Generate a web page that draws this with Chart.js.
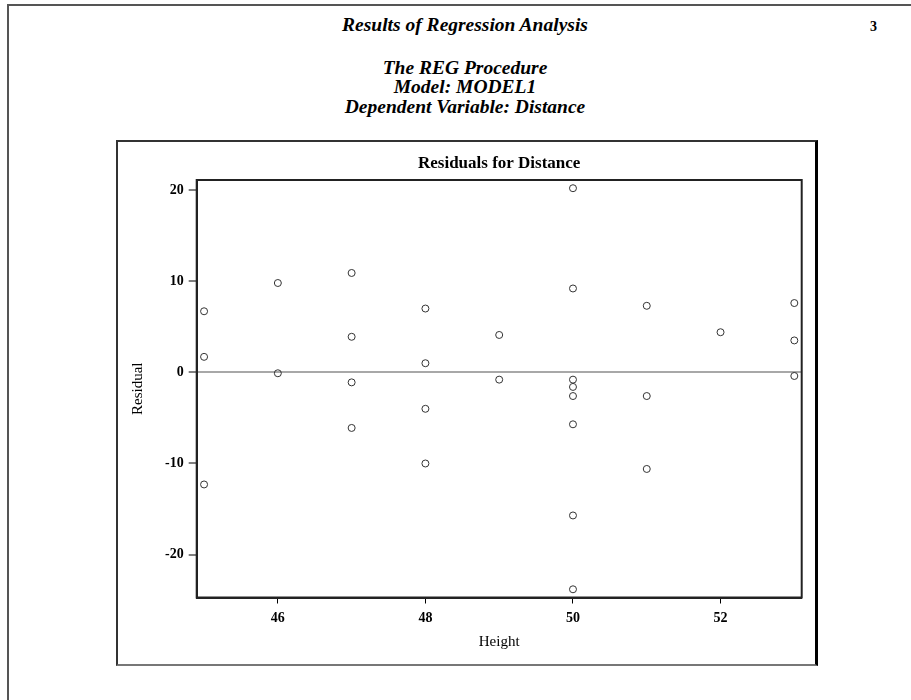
<!DOCTYPE html>
<html>
<head>
<meta charset="utf-8">
<script src="https://cdn.jsdelivr.net/npm/chart.js@4"></script>
<style>
  html, body { margin: 0; padding: 0; background: #fff; width: 911px; height: 700px; overflow: hidden; }
  .page { position: absolute; left: 7px; top: 4px; width: 1000px; height: 800px; border-left: 2px solid #555; border-top: 2px solid #555; }
  .box { position: absolute; left: 116px; top: 140px; width: 697px; height: 522px; border-left: 2px solid #333; border-top: 2px solid #333; border-right: 3px solid #000; border-bottom: 2px solid #777; }
  .t { position: absolute; left: 0; width: 930px; text-align: center; font-family: "Liberation Serif", serif; font-weight: bold; font-style: italic; font-size: 19.5px; line-height: 20px; color: #000; white-space: nowrap; }
  .pg { position: absolute; left: 870px; top: 20px; font-family: "Liberation Serif", serif; font-weight: bold; font-size: 14px; line-height: 14px; }
  #wrap { position: absolute; left: 0; top: 0; width: 911px; height: 700px; }
</style>
</head>
<body>
<div class="page"></div>
<div class="box"></div>
<div class="t" style="top:15px">Results of Regression Analysis</div>
<div class="pg">3</div>
<div class="t" style="top:57.7px">The REG Procedure</div>
<div class="t" style="top:77.4px">Model: MODEL1</div>
<div class="t" style="top:96.7px">Dependent Variable: Distance</div>
<div id="wrap"><canvas id="c" width="911" height="700"></canvas></div>
<script>
// Data
const heights = [45,45,45, 46,46, 47,47,47,47, 48,48,48,48, 49,49, 50,50,50,50,50,50,50,50, 51,51,51, 52, 53,53,53];
const residuals = [6.7,1.7,-12.3, 9.8,-0.1, 10.9,3.9,-1.1,-6.1, 7.0,1.0,-4.0,-10.0, 4.1,-0.8, 20.2,9.2,-0.8,-1.6,-2.6,-5.7,-15.7,-23.8, 7.3,-2.6,-10.6, 4.4, 7.6,3.5,-0.4];
const xTicks = [46, 48, 50, 52];
const yTicks = [-20, -10, 0, 10, 20];
const chartTitle = "Residuals for Distance";
const xTitle = "Height";
const yTitle = "Residual";

const points = heights.map((h, i) => ({ x: h, y: residuals[i] }));
const serif = "'Liberation Serif', 'Times New Roman', serif";

const framePlugin = {
  id: 'frame',
  afterDraw(chart) {
    const { ctx, chartArea: a } = chart;
    ctx.save();
    ctx.strokeStyle = '#222';
    ctx.lineWidth = 2;
    ctx.strokeRect(a.left, a.top, a.right - a.left, a.bottom - a.top);
    ctx.restore();
  }
};

new Chart(document.getElementById('c'), {
  type: 'scatter',
  data: {
    datasets: [{
      data: points,
      pointStyle: 'circle',
      pointRadius: 3.5,
      pointHoverRadius: 3.5,
      borderWidth: 1,
      borderColor: '#333',
      backgroundColor: 'rgba(255,255,255,0)'
    }]
  },
  options: {
    responsive: false,
    animation: false,
    devicePixelRatio: 1,
    layout: { padding: { top: 153.8, left: 120, right: 109.3, bottom: 46.5 } },
    plugins: {
      legend: { display: false },
      tooltip: { enabled: false },
      title: {
        display: true,
        text: chartTitle,
        fullSize: false,
        color: '#000',
        font: { family: serif, size: 17, weight: 'bold', lineHeight: 1.2 },
        padding: { top: 0, bottom: 5.8 }
      }
    },
    scales: {
      x: {
        type: 'linear',
        min: 44.9,
        max: 53.1,
        afterFit(s) { s.height = 56; },
        afterBuildTicks(s) { s.ticks = xTicks.map(v => ({ value: v })); },
        ticks: { color: '#000', padding: 6.6, font: { family: serif, size: 14, weight: 'bold' } },
        grid: { drawOnChartArea: false, drawTicks: true, tickLength: 6, tickColor: '#000', tickWidth: 1, color: '#000' },
        border: { display: true, color: '#222', width: 2 },
        title: { display: true, text: xTitle, color: '#000', font: { family: serif, size: 15 }, padding: { top: 0, bottom: 2 } }
      },
      y: {
        type: 'linear',
        min: -24.7,
        max: 21.1,
        afterFit(s) { s.width = 76.7; },
        afterBuildTicks(s) { s.ticks = yTicks.map(v => ({ value: v })); },
        ticks: { color: '#000', padding: 5, font: { family: serif, size: 14, weight: 'bold' } },
        grid: {
          drawOnChartArea: true,
          drawTicks: true,
          tickLength: 8,
          tickColor: '#000',
          tickWidth: 1,
          lineWidth: (c) => (c.tick && c.tick.value === 0 ? 2 : 0),
          color: (c) => (c.tick && c.tick.value === 0 ? '#a8a8a8' : 'rgba(0,0,0,0)')
        },
        border: { display: true, color: '#222', width: 2 },
        title: { display: true, text: yTitle, color: '#000', font: { family: serif, size: 15 }, padding: { top: 9, bottom: 0 } }
      }
    }
  },
  plugins: [framePlugin]
});
</script>
</body>
</html>
